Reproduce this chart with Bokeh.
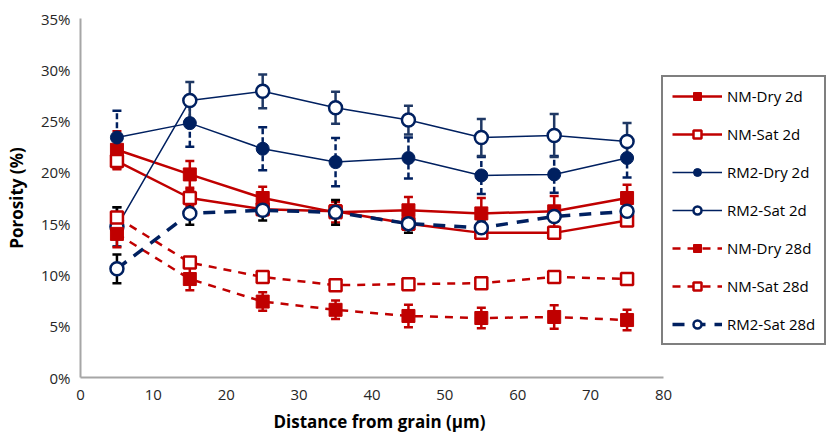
from bokeh.plotting import figure
from bokeh.models import (ColumnDataSource, Whisker, TeeHead, Legend, LegendItem,
                          FixedTicker, PrintfTickFormatter, Range1d, Title)
from bokeh.embed import file_html
from bokeh.resources import INLINE

distance = [5, 15, 25, 35, 45, 55, 65, 75]

nm_dry_2d = [22.2, 19.8, 17.5, 16.1, 16.3, 16.0, 16.2, 17.5]
nm_dry_2d_err = [1.8, 1.3, 1.1, 1.0, 1.3, 1.5, 1.5, 1.3]

nm_sat_2d = [21.1, 17.5, 16.4, 16.2, 15.0, 14.1, 14.1, 15.3]
nm_sat_2d_err = [0.8, 0.8, 0.6, 0.6, 0.5, 0.5, 0.4, 0.5]

rm2_dry_2d = [23.4, 24.8, 22.3, 21.0, 21.4, 19.7, 19.8, 21.4]
rm2_dry_2d_err = [2.6, 2.3, 2.1, 2.35, 2.0, 1.8, 1.8, 1.9]

rm2_sat_2d = [14.7, 27.0, 27.9, 26.3, 25.1, 23.4, 23.6, 23.0]
rm2_sat_2d_err = [1.9, 1.8, 1.65, 1.55, 1.4, 1.8, 2.1, 1.8]

nm_dry_28d = [14.0, 9.6, 7.4, 6.6, 6.0, 5.8, 5.9, 5.6]
nm_dry_28d_err = [1.3, 1.1, 0.9, 0.9, 1.1, 1.0, 1.15, 1.0]

nm_sat_28d = [15.6, 11.2, 9.8, 9.0, 9.1, 9.2, 9.8, 9.6]
nm_sat_28d_err = [1.0, 0.5, 0.4, 0.3, 0.3, 0.4, 0.4, 0.3]

rm2_sat_28d = [10.6, 16.0, 16.3, 16.1, 15.0, 14.6, 15.7, 16.2]
rm2_sat_28d_err = [1.4, 1.1, 1.0, 1.2, 0.9, 0.6, 0.5, 0.4]

y_ticks = [0, 5, 10, 15, 20, 25, 30, 35]
x_ticks = [0, 10, 20, 30, 40, 50, 60, 70, 80]
x_min, x_max = 0, 80
y_min, y_max = 0, 35
x_title = "Distance from grain (μm)"
y_title = "Porosity (%)"

RED = "#C00000"
NAVY = "#002060"
NAVY2 = "#1F3864"
FONT = "Open Sans"

# layout geometry (pixels)
FIG_W, FIG_H = 830, 438
LEFT, TOP, BOTTOM = 80, 18, 61
AXIS_PX = 583          # pixel length of the 0..80 x axis
FRAME_W = FIG_W - LEFT
x_view_max = x_max * FRAME_W / AXIS_PX   # frame extends right to host the legend

p = figure(width=FIG_W, height=FIG_H, output_backend="svg", toolbar_location=None,
           x_range=Range1d(x_min, x_view_max), y_range=Range1d(y_min, y_max),
           min_border_left=LEFT, min_border_right=0, min_border_top=TOP,
           min_border_bottom=BOTTOM)
p.outline_line_color = None
p.xgrid.grid_line_color = None
p.ygrid.grid_line_color = None
p.background_fill_color = "white"

series = [
    # label, values, errs, color, line_width, dash, marker, filled, msize, err_color, err_dash
    ("NM-Dry 2d", nm_dry_2d, nm_dry_2d_err, RED, 2.5, "solid", "square", True, 13, RED, "solid"),
    ("NM-Sat 2d", nm_sat_2d, nm_sat_2d_err, RED, 2.5, "solid", "square", False, 12, RED, "solid"),
    ("RM2-Dry 2d", rm2_dry_2d, rm2_dry_2d_err, NAVY, 1.5, "solid", "circle", True, 13, NAVY, "6 3"),
    ("RM2-Sat 2d", rm2_sat_2d, rm2_sat_2d_err, NAVY, 1.5, "solid", "circle", False, 13, NAVY2, "solid"),
    ("NM-Dry 28d", nm_dry_28d, nm_dry_28d_err, RED, 2.5, "8 7", "square", True, 13, RED, "solid"),
    ("NM-Sat 28d", nm_sat_28d, nm_sat_28d_err, RED, 2.5, "8 7", "square", False, 12, "black", "solid"),
    ("RM2-Sat 28d", rm2_sat_28d, rm2_sat_28d_err, NAVY, 3.5, "12 9", "circle", False, 13, "black", "solid"),
]

items = []
whiskers = []
for (label, vals, errs, color, lw, dash, marker, filled, msize, ecol, edash) in series:
    src = ColumnDataSource(dict(
        x=distance, y=vals,
        upper=[v + e for v, e in zip(vals, errs)],
        lower=[v - e for v, e in zip(vals, errs)]))
    lr = p.line("x", "y", source=src, line_color=color, line_width=lw, line_dash=dash)
    mr = p.scatter("x", "y", source=src, marker=marker, size=msize,
                   line_color=color, line_width=2.5 if not filled else 1,
                   fill_color=color if filled else "white")
    items.append(LegendItem(label=label, renderers=[lr, mr]))
    w = Whisker(base="x", upper="upper", lower="lower", source=src,
                line_color=ecol, line_width=2.5, line_dash=edash,
                upper_head=TeeHead(size=9, line_color=ecol, line_width=2.5),
                lower_head=TeeHead(size=9, line_color=ecol, line_width=2.5))
    whiskers.append(w)

for w in whiskers:
    p.add_layout(w)

# axes
p.xaxis.ticker = FixedTicker(ticks=x_ticks)
p.yaxis.ticker = FixedTicker(ticks=y_ticks)
p.xaxis.bounds = (x_min, x_max)
p.yaxis.formatter = PrintfTickFormatter(format="%d%%")
for ax in (p.xaxis[0], p.yaxis[0]):
    ax.axis_line_color = "#A6A6A6"
    ax.axis_line_width = 2
    ax.major_tick_line_color = None
    ax.minor_tick_line_color = None
    ax.major_label_text_font = FONT
    ax.major_label_text_font_size = "15px"
    ax.major_label_text_color = "#262626"
    ax.axis_label_text_font = FONT
    ax.axis_label_text_font_size = "17px"
    ax.axis_label_text_font_style = "bold"
    ax.axis_label_text_color = "black"
p.yaxis.axis_label = y_title
p.xaxis.major_label_standoff = 6
p.yaxis.major_label_standoff = 4
p.yaxis.axis_label_standoff = 10

# x-axis title centred under the bounded axis (not the whole frame)
xt = Title(text=x_title, align="left", offset=193, text_font=FONT,
           text_font_size="17px", text_font_style="bold", text_color="black",
           standoff=11)
p.add_layout(xt, "below")

legend = Legend(items=items, location=(581, 32))
legend.border_line_color = "black"
legend.border_line_width = 2
legend.background_fill_color = "white"
legend.background_fill_alpha = 1
legend.margin = 0
legend.padding = 9
legend.spacing = 18
legend.glyph_width = 50
legend.glyph_height = 20
legend.label_height = 20
legend.label_standoff = 5
legend.label_text_font = FONT
legend.label_text_font_size = "15px"
legend.label_text_color = "black"
p.add_layout(legend)

open("out.html", "w").write(file_html(p, INLINE))
